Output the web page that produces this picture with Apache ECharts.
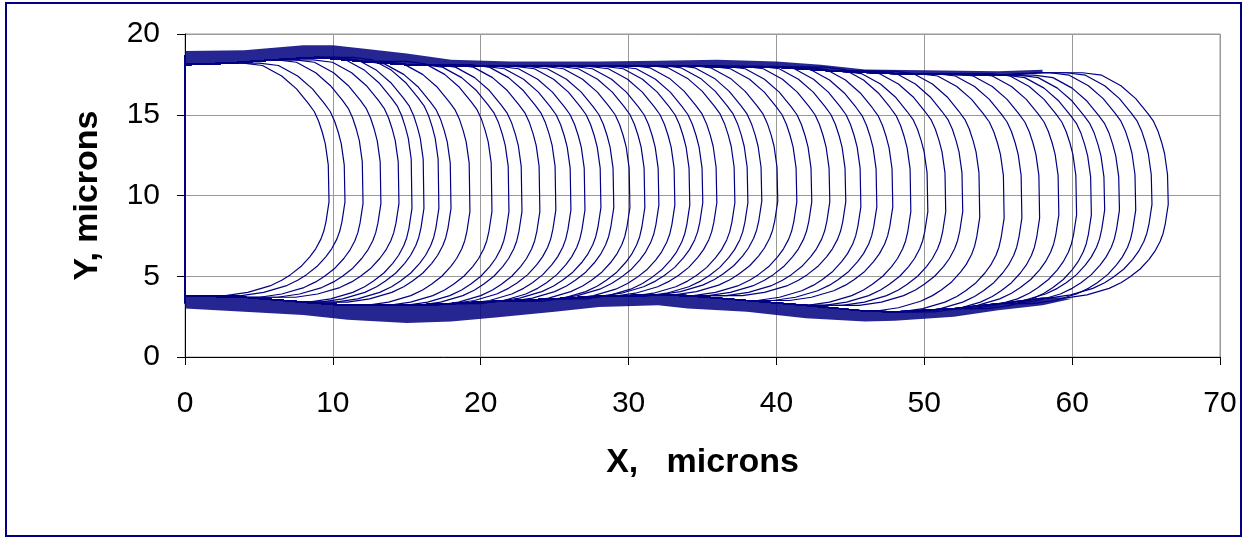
<!DOCTYPE html>
<html>
<head>
<meta charset="utf-8">
<script src="https://cdn.jsdelivr.net/npm/echarts@6/dist/echarts.min.js"></script>
<style>
html, body { margin: 0; padding: 0; background: #fff; }
#main { width: 1243px; height: 539px; }
</style>
</head>
<body>
<div id="main"></div>
<script>
var xTicks = [0, 10, 20, 30, 40, 50, 60, 70];
var yTicks = [0, 5, 10, 15, 20];

// x of the leading point (around y = 10) of each front
var tipX = [9.74, 10.82, 12.04, 13.25, 14.47, 15.35, 16.16, 17.17, 17.99, 19.27,
	20.76, 21.91, 22.79, 24.0, 25.08, 26.1, 27.05, 28.13, 29.0, 30.09,
	31.1, 32.05, 33.13, 34.14, 35.02, 35.97, 37.19, 38.07, 39.01, 40.09,
	41.38, 42.39, 43.61, 44.69, 45.71, 46.79, 47.87, 49.09, 50.24, 51.45,
	52.6, 53.75, 55.4, 56.6, 57.8, 59.1, 60.3, 61.3, 62.2, 63.2,
	64.3, 65.4, 66.5];

// channel walls, inner edge (where the fronts run) and outer edge of the dark band
var topWall = [[0, 18.1], [3, 18.2], [6, 18.4], [9, 18.55], [12, 18.3], [15, 18.1], [20, 18.0],
	[25, 18.0], [30, 18.05], [35, 18.0], [40, 17.95], [44, 17.7], [48, 17.55], [55, 17.45],
	[58, 17.6], [62, 17.62]];
var topWallOuter = [[0, 18.95], [4, 19.0], [8, 19.3], [10, 19.3], [12, 19.1], [15, 18.8],
	[18, 18.4], [22, 18.3], [28, 18.3], [32, 18.35], [36, 18.4], [40, 18.3], [43, 18.1],
	[46, 17.8], [50, 17.75], [55, 17.7], [58, 17.78]];
var bottomWall = [[0, 3.8], [4, 3.7], [8, 3.4], [11, 3.2], [15, 3.2], [18, 3.3], [21, 3.45],
	[25, 3.6], [28, 3.75], [32, 3.85], [34, 3.8], [38, 3.5], [42, 3.2], [46, 2.85], [48, 2.8],
	[52, 3.0], [55, 3.3], [58, 3.65], [61, 3.95]];
var bottomWallOuter = [[0, 3.0], [4, 2.8], [8, 2.6], [11, 2.3], [15, 2.1], [18, 2.2],
	[21, 2.45], [25, 2.8], [28, 3.1], [32, 3.2], [34, 3.0], [38, 2.8], [42, 2.4], [46, 2.2],
	[48, 2.25], [52, 2.5], [55, 2.9], [58, 3.2], [60, 3.6]];

// front shape: [dx from tip, depth below top wall] and [dx from tip, height above bottom wall]
var frontTop = [[-5.8, 0], [-4.5, 0.15], [-3.2, 0.8], [-2.2, 1.6], [-1.4, 2.5], [-1.0, 3.0],
	[-0.7, 3.6], [-0.45, 4.3], [-0.25, 5.0], [-0.05, 6.3]];
var frontBottom = [[0, 5.8], [-0.2, 4.6], [-0.35, 4.0], [-0.55, 3.5], [-0.9, 2.9], [-1.3, 2.4],
	[-1.9, 1.8], [-2.6, 1.3], [-3.2, 0.95], [-4.0, 0.6], [-5.5, 0.2], [-7.0, 0]];

var inlet = [[0, 3.3], [0, 18.7]];

function buildFront(tip) {
	var pts = [];
	var depX = tip + frontTop[0][0];
	var yTop = topWall[0][1];
	topWall.forEach(function(p) {
		if (p[0] < depX) {
			pts.push([p[0], p[1]]);
			yTop = p[1];
		}
	});
	frontTop.forEach(function(f) {
		pts.push([tip + f[0], yTop - f[1]]);
	});
	var arrX = tip + frontBottom[frontBottom.length - 1][0];
	var wall = bottomWall.filter(function(p) {
		return p[0] < arrX;
	});
	var yBot = wall.length ? wall[wall.length - 1][1] : bottomWall[0][1];
	frontBottom.forEach(function(f) {
		pts.push([tip + f[0], yBot + f[1]]);
	});
	for (var i = wall.length - 1; i >= 0; i--) {
		pts.push([wall[i][0], wall[i][1]]);
	}
	return pts;
}

function band(inner, outer) {
	return outer.concat(inner.filter(function(p) {
		return p[0] <= outer[outer.length - 1][0];
	}).reverse());
}

var bands = [band(topWall, topWallOuter), band(bottomWall, bottomWallOuter)];

var series = [{
	type: 'custom',
	silent: true,
	z: 1,
	renderItem: function(params, api) {
		var pts = bands[params.dataIndex].map(function(p) {
			return api.coord(p);
		});
		return {
			type: 'polygon',
			shape: { points: pts },
			style: { fill: '#000080', opacity: 0.85 }
		};
	},
	data: bands.map(function(b) {
		return b[0];
	})
}, {
	type: 'line',
	silent: true,
	symbol: 'none',
	z: 3,
	lineStyle: { color: '#000080', width: 2 },
	data: inlet
}];

tipX.forEach(function(t) {
	series.push({
		type: 'line',
		silent: true,
		symbol: 'none',
		z: 2,
		lineStyle: { color: '#000080', width: 1.2 },
		data: buildFront(t)
	});
});

var option = {
	animation: false,
	backgroundColor: '#fff',
	grid: {
		left: 185,
		top: 34,
		width: 1035,
		height: 323,
		show: true,
		borderColor: '#999',
		borderWidth: 1,
		outerBoundsMode: 'none'
	},
	graphic: [{
		type: 'rect',
		shape: { x: 6, y: 3, width: 1235, height: 533 },
		style: { fill: 'none', stroke: '#000080', lineWidth: 2 },
		silent: true
	}],
	xAxis: {
		type: 'value',
		min: xTicks[0],
		max: xTicks[xTicks.length - 1],
		interval: xTicks[1] - xTicks[0],
		name: 'X,   microns',
		nameLocation: 'middle',
		nameGap: 89,
		nameTextStyle: { fontFamily: 'Liberation Sans', fontSize: 34, fontWeight: 'bold', color: '#000' },
		axisLine: { show: true, lineStyle: { color: '#000', width: 1 } },
		axisTick: { show: true, inside: false, length: 8, lineStyle: { color: '#000' } },
		axisLabel: { fontFamily: 'Liberation Sans', fontSize: 30, color: '#000', margin: 32 },
		splitLine: { show: true, lineStyle: { color: '#999', width: 1 } }
	},
	yAxis: {
		type: 'value',
		min: yTicks[0],
		max: yTicks[yTicks.length - 1],
		interval: yTicks[1] - yTicks[0],
		name: 'Y, microns',
		nameLocation: 'middle',
		nameGap: 80,
		nameTextStyle: { fontFamily: 'Liberation Sans', fontSize: 34, fontWeight: 'bold', color: '#000' },
		axisLine: { show: true, lineStyle: { color: '#000', width: 1 } },
		axisTick: { show: true, inside: false, length: 8, lineStyle: { color: '#000' } },
		axisLabel: { fontFamily: 'Liberation Sans', fontSize: 30, color: '#000', margin: 25 },
		splitLine: { show: true, lineStyle: { color: '#999', width: 1 } }
	},
	series: series
};

var my = echarts.init(document.getElementById('main'));
my.setOption(option);
</script>
</body>
</html>
